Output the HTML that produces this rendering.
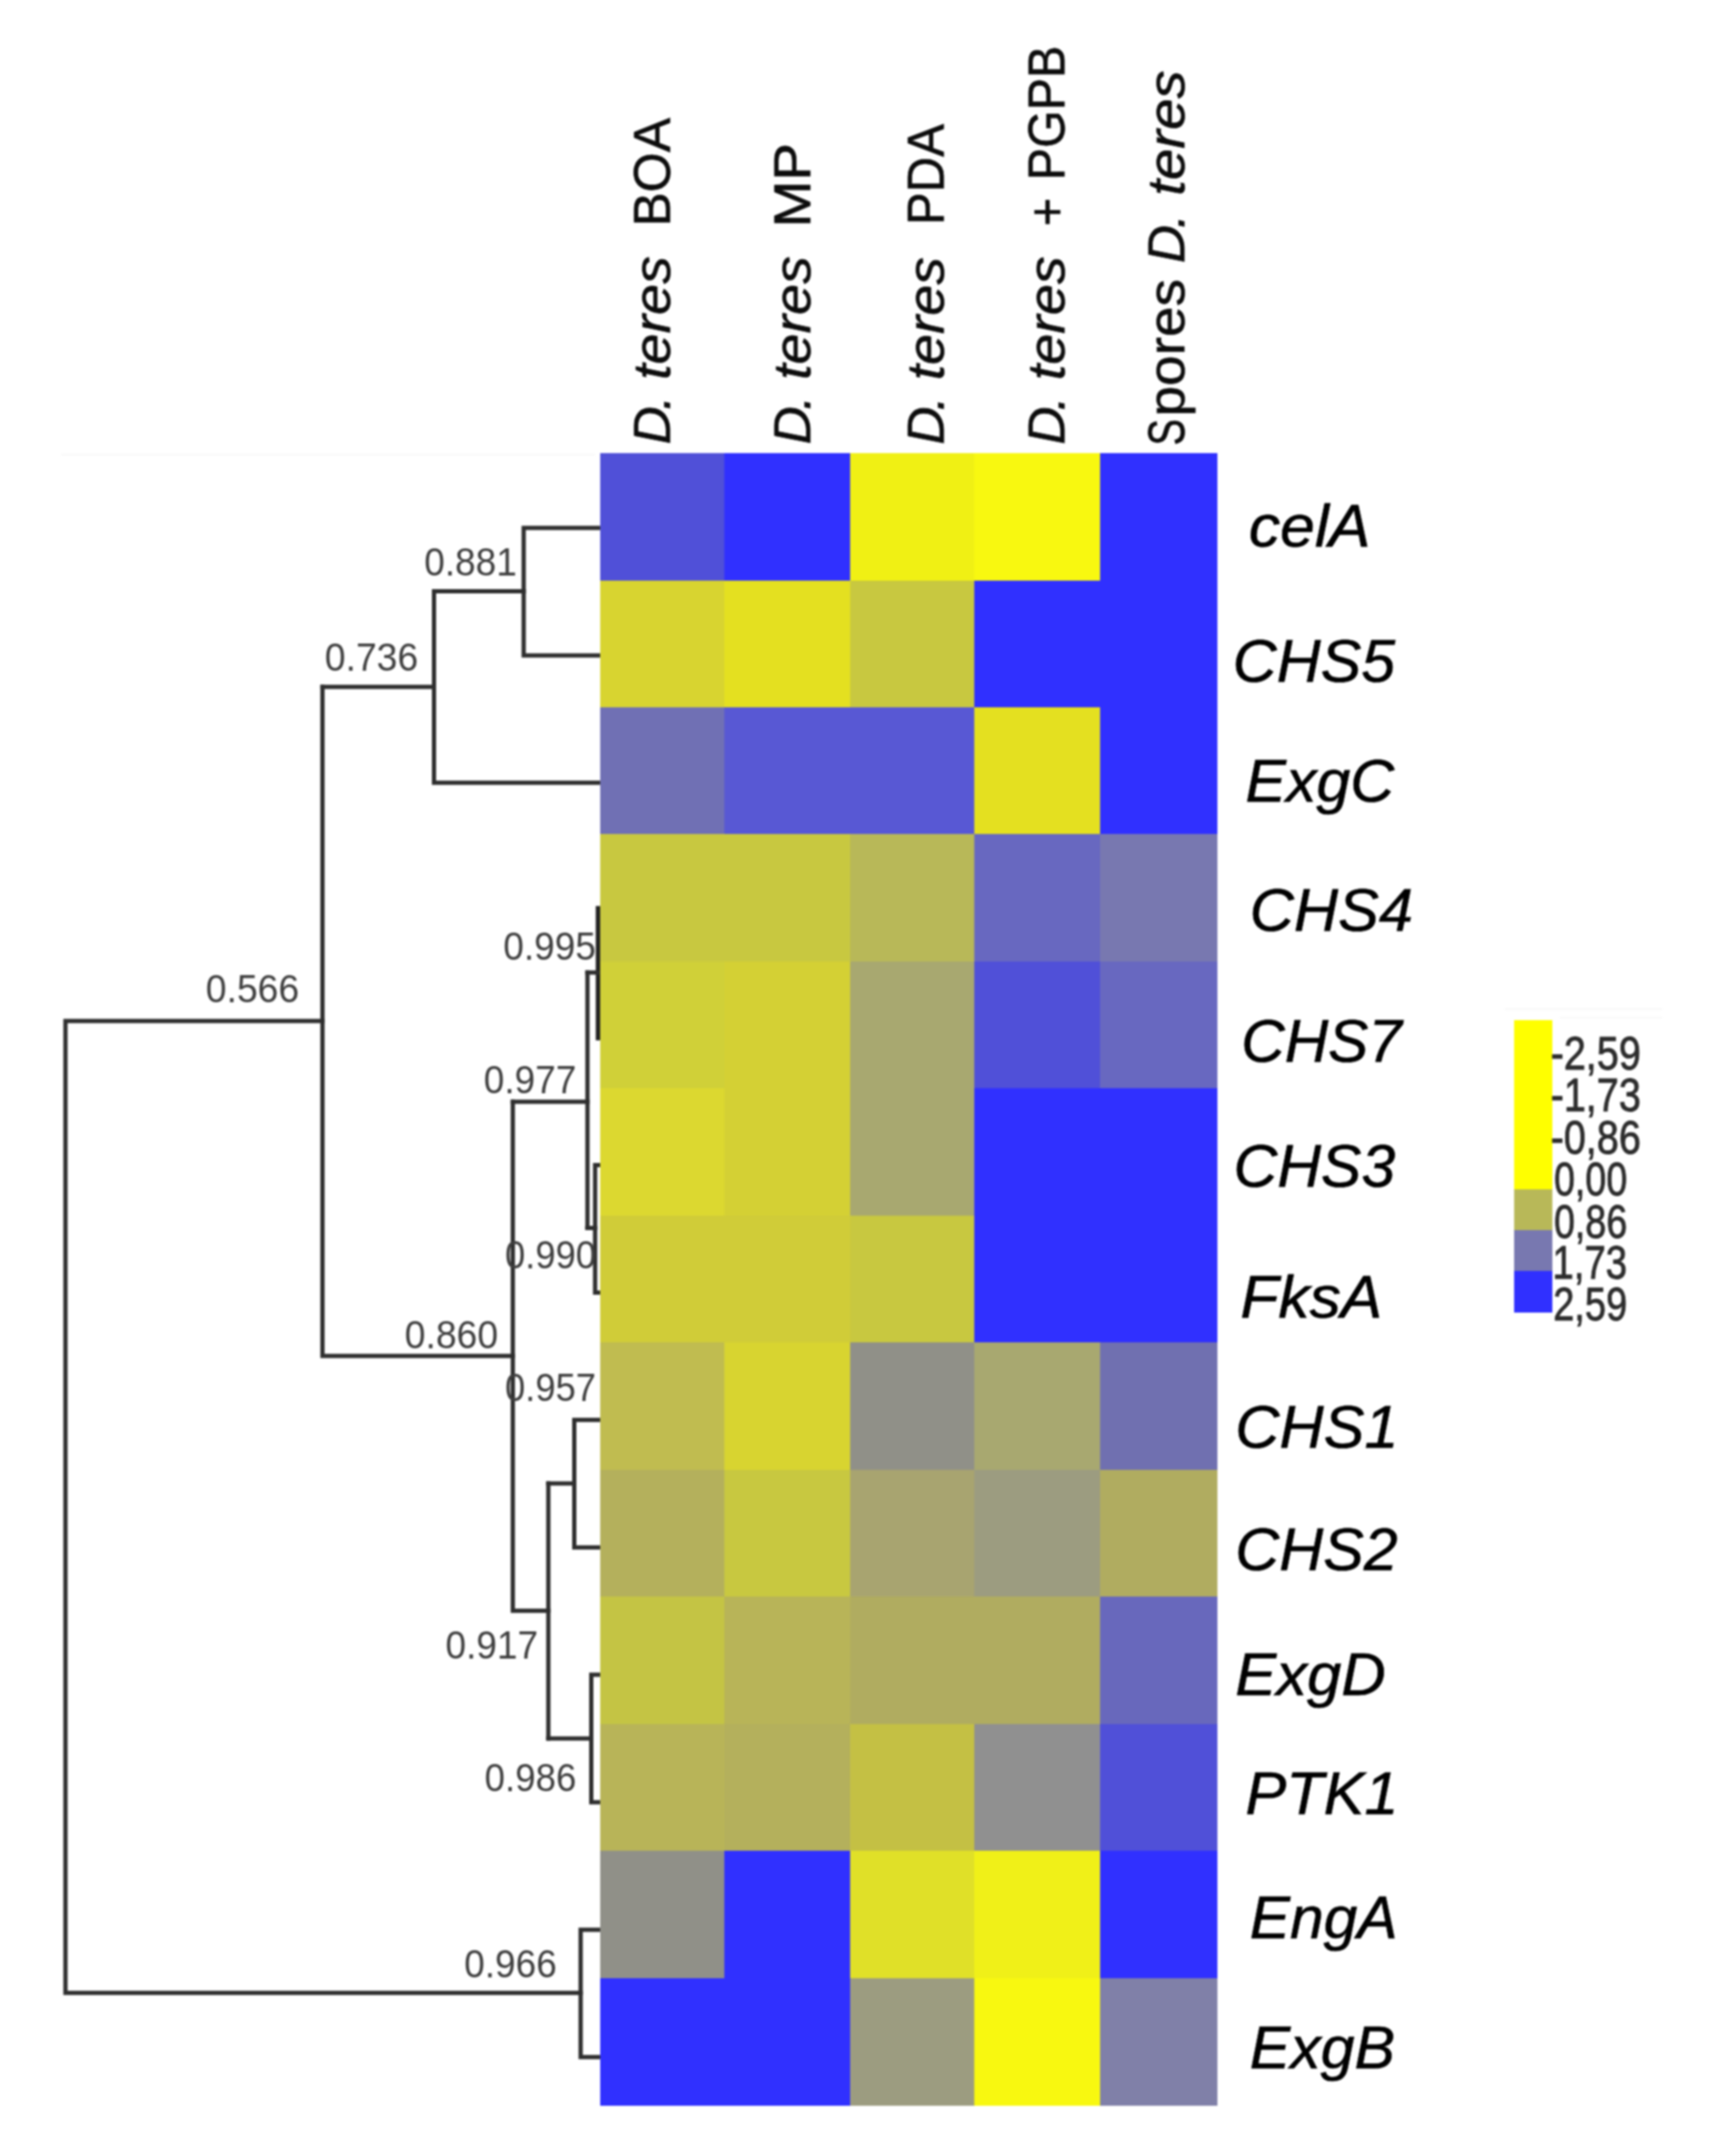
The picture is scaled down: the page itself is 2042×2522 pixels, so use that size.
<!DOCTYPE html>
<html lang="en"><head><meta charset="utf-8"><title>Heatmap</title>
<style>html,body{margin:0;padding:0;background:#fff}svg{display:block}text{font-family:"Liberation Sans",sans-serif}.g{font-style:italic;font-size:70.5px;fill:#000;stroke:#000;stroke-width:.7px}.n{font-size:47px;fill:#3e3e3e}.c{font-size:62px;fill:#0c0c0c;stroke:#0c0c0c;stroke-width:.7px}.i{font-style:italic}.l{font-size:55px;fill:#2c2c2c;stroke:#2c2c2c;stroke-width:1px}.d{fill:none;stroke:#2e2e2e;stroke-width:5;stroke-linecap:square;stroke-linejoin:miter}</style></head><body>
<svg width="2042" height="2522" viewBox="0 0 2042 2522">
<rect width="2042" height="2522" fill="#fff"/>
<defs><filter id="soft" x="0" y="0" width="100%" height="100%" filterUnits="userSpaceOnUse" color-interpolation-filters="sRGB"><feGaussianBlur stdDeviation="0.9"/></filter></defs>
<g filter="url(#soft)">
<rect width="2042" height="2522" fill="#fff"/>
<path d="M72 534.8H700M1770 1187H1955M1835 1197H1955" fill="none" stroke="#f6f6f6" stroke-width="1.6"/>
<path class="d" d="M708 621.0H616V770.9H708"/>
<path class="d" d="M616 695.5H510.5"/>
<path class="d" d="M510.5 695.5V920.8H708"/>
<path class="d" d="M510.5 808H379.3"/>
<path class="d" d="M379.3 808V1595H603.2"/>
<path class="d" d="M379.3 1201H77V2344.3H683"/>
<path class="d" d="M708 2269.9H683V2419.8H708"/>
<path class="d" d="M603.2 1296V1894.7H645"/>
<path class="d" d="M603.2 1296H691"/>
<path class="d" d="M691 1144V1444.5"/>
<path class="d" style="stroke-width:5.5;stroke:#222" d="M703.5 1068.5V1221"/>
<path class="d" d="M691 1144H703"/>
<path class="d" d="M708 1370.5H700V1520.4H708"/>
<path class="d" d="M691 1444.5H700"/>
<path class="d" d="M645 1745V2045"/>
<path class="d" d="M645 1745H675.5"/>
<path class="d" d="M708 1670.3H675.5V1820.2H708"/>
<path class="d" d="M645 2045H695.5"/>
<path class="d" d="M708 1970.1H695.5V2120.0H708"/>
<g shape-rendering="crispEdges">
<rect x="706" y="533.0" width="146.5" height="150.0" fill="#5050d8"/>
<rect x="852" y="533.0" width="148.0" height="150.0" fill="#3030ff"/>
<rect x="999.5" y="533.0" width="147.0" height="150.0" fill="#f0f014"/>
<rect x="1146" y="533.0" width="148.0" height="150.0" fill="#f8f810"/>
<rect x="1293.5" y="533.0" width="138.5" height="150.0" fill="#3030ff"/>
<rect x="706" y="682.5" width="146.5" height="150.0" fill="#d8d430"/>
<rect x="852" y="682.5" width="148.0" height="150.0" fill="#e4e020"/>
<rect x="999.5" y="682.5" width="147.0" height="150.0" fill="#c8c840"/>
<rect x="1146" y="682.5" width="148.0" height="150.0" fill="#3030ff"/>
<rect x="1293.5" y="682.5" width="138.5" height="150.0" fill="#3030ff"/>
<rect x="706" y="831.9" width="146.5" height="150.0" fill="#7070b4"/>
<rect x="852" y="831.9" width="148.0" height="150.0" fill="#5858d4"/>
<rect x="999.5" y="831.9" width="147.0" height="150.0" fill="#5858d4"/>
<rect x="1146" y="831.9" width="148.0" height="150.0" fill="#e4e020"/>
<rect x="1293.5" y="831.9" width="138.5" height="150.0" fill="#3030ff"/>
<rect x="706" y="981.4" width="146.5" height="150.0" fill="#c8c840"/>
<rect x="852" y="981.4" width="148.0" height="150.0" fill="#c8c840"/>
<rect x="999.5" y="981.4" width="147.0" height="150.0" fill="#b8b858"/>
<rect x="1146" y="981.4" width="148.0" height="150.0" fill="#6868c0"/>
<rect x="1293.5" y="981.4" width="138.5" height="150.0" fill="#7878b0"/>
<rect x="706" y="1130.8" width="146.5" height="150.0" fill="#d0d038"/>
<rect x="852" y="1130.8" width="148.0" height="150.0" fill="#d4d034"/>
<rect x="999.5" y="1130.8" width="147.0" height="150.0" fill="#a8a870"/>
<rect x="1146" y="1130.8" width="148.0" height="150.0" fill="#5050d8"/>
<rect x="1293.5" y="1130.8" width="138.5" height="150.0" fill="#6868c0"/>
<rect x="706" y="1280.3" width="146.5" height="150.0" fill="#dcd830"/>
<rect x="852" y="1280.3" width="148.0" height="150.0" fill="#d4d034"/>
<rect x="999.5" y="1280.3" width="147.0" height="150.0" fill="#a8a870"/>
<rect x="1146" y="1280.3" width="148.0" height="150.0" fill="#3030ff"/>
<rect x="1293.5" y="1280.3" width="138.5" height="150.0" fill="#3030ff"/>
<rect x="706" y="1429.8" width="146.5" height="150.0" fill="#d0cc38"/>
<rect x="852" y="1429.8" width="148.0" height="150.0" fill="#d0cc38"/>
<rect x="999.5" y="1429.8" width="147.0" height="150.0" fill="#c8c840"/>
<rect x="1146" y="1429.8" width="148.0" height="150.0" fill="#3030ff"/>
<rect x="1293.5" y="1429.8" width="138.5" height="150.0" fill="#3030ff"/>
<rect x="706" y="1579.2" width="146.5" height="150.0" fill="#c0bc50"/>
<rect x="852" y="1579.2" width="148.0" height="150.0" fill="#d8d430"/>
<rect x="999.5" y="1579.2" width="147.0" height="150.0" fill="#909088"/>
<rect x="1146" y="1579.2" width="148.0" height="150.0" fill="#a8a870"/>
<rect x="1293.5" y="1579.2" width="138.5" height="150.0" fill="#7070b0"/>
<rect x="706" y="1728.7" width="146.5" height="150.0" fill="#b4b05c"/>
<rect x="852" y="1728.7" width="148.0" height="150.0" fill="#c8c840"/>
<rect x="999.5" y="1728.7" width="147.0" height="150.0" fill="#a8a470"/>
<rect x="1146" y="1728.7" width="148.0" height="150.0" fill="#9c9c80"/>
<rect x="1293.5" y="1728.7" width="138.5" height="150.0" fill="#b0ac60"/>
<rect x="706" y="1878.2" width="146.5" height="150.0" fill="#c4c444"/>
<rect x="852" y="1878.2" width="148.0" height="150.0" fill="#b8b458"/>
<rect x="999.5" y="1878.2" width="147.0" height="150.0" fill="#b0ac60"/>
<rect x="1146" y="1878.2" width="148.0" height="150.0" fill="#b0ac60"/>
<rect x="1293.5" y="1878.2" width="138.5" height="150.0" fill="#6868bc"/>
<rect x="706" y="2027.6" width="146.5" height="150.0" fill="#b8b458"/>
<rect x="852" y="2027.6" width="148.0" height="150.0" fill="#b4b05c"/>
<rect x="999.5" y="2027.6" width="147.0" height="150.0" fill="#c4c044"/>
<rect x="1146" y="2027.6" width="148.0" height="150.0" fill="#909090"/>
<rect x="1293.5" y="2027.6" width="138.5" height="150.0" fill="#5050d8"/>
<rect x="706" y="2177.1" width="146.5" height="150.0" fill="#909088"/>
<rect x="852" y="2177.1" width="148.0" height="150.0" fill="#3030ff"/>
<rect x="999.5" y="2177.1" width="147.0" height="150.0" fill="#e0e028"/>
<rect x="1146" y="2177.1" width="148.0" height="150.0" fill="#f0f018"/>
<rect x="1293.5" y="2177.1" width="138.5" height="150.0" fill="#3030ff"/>
<rect x="706" y="2326.5" width="146.5" height="150.0" fill="#3030ff"/>
<rect x="852" y="2326.5" width="148.0" height="150.0" fill="#3030ff"/>
<rect x="999.5" y="2326.5" width="147.0" height="150.0" fill="#9c9c80"/>
<rect x="1146" y="2326.5" width="148.0" height="150.0" fill="#f8f810"/>
<rect x="1293.5" y="2326.5" width="138.5" height="150.0" fill="#8080a8"/>
</g>
<rect x="1781" y="1200" width="45" height="199" fill="#ffff00"/>
<rect x="1781" y="1399" width="45" height="48" fill="#b8b858"/>
<rect x="1781" y="1447" width="45" height="48" fill="#7878b0"/>
<rect x="1781" y="1495" width="45" height="49" fill="#3030ff"/>
<text class="n" x="499.0" y="677.0" textLength="109.0" lengthAdjust="spacingAndGlyphs">0.881</text>
<text class="n" x="382.0" y="789.0" textLength="110.0" lengthAdjust="spacingAndGlyphs">0.736</text>
<text class="n" x="242.0" y="1179.0" textLength="110.0" lengthAdjust="spacingAndGlyphs">0.566</text>
<text class="n" x="592.0" y="1129.0" textLength="109.0" lengthAdjust="spacingAndGlyphs">0.995</text>
<text class="n" x="569.0" y="1285.5" textLength="109.0" lengthAdjust="spacingAndGlyphs">0.977</text>
<text class="n" x="594.0" y="1492.0" textLength="107.0" lengthAdjust="spacingAndGlyphs">0.990</text>
<text class="n" x="476.0" y="1586.0" textLength="110.0" lengthAdjust="spacingAndGlyphs">0.860</text>
<text class="n" x="594.0" y="1648.0" textLength="107.0" lengthAdjust="spacingAndGlyphs">0.957</text>
<text class="n" x="524.0" y="1951.0" textLength="109.0" lengthAdjust="spacingAndGlyphs">0.917</text>
<text class="n" x="570.0" y="2107.0" textLength="108.0" lengthAdjust="spacingAndGlyphs">0.986</text>
<text class="n" x="546.0" y="2325.5" textLength="109.0" lengthAdjust="spacingAndGlyphs">0.966</text>
<text class="g" x="1469.0" y="642.5" textLength="143.0" lengthAdjust="spacingAndGlyphs">celA</text>
<text class="g" x="1450.0" y="802.0" textLength="191.0" lengthAdjust="spacingAndGlyphs">CHS5</text>
<text class="g" x="1465.0" y="942.5" textLength="175.0" lengthAdjust="spacingAndGlyphs">ExgC</text>
<text class="g" x="1470.0" y="1095.0" textLength="192.0" lengthAdjust="spacingAndGlyphs">CHS4</text>
<text class="g" x="1460.0" y="1249.0" textLength="189.0" lengthAdjust="spacingAndGlyphs">CHS7</text>
<text class="g" x="1451.0" y="1395.5" textLength="190.0" lengthAdjust="spacingAndGlyphs">CHS3</text>
<text class="g" x="1459.0" y="1550.0" textLength="167.0" lengthAdjust="spacingAndGlyphs">FksA</text>
<text class="g" x="1453.0" y="1702.5" textLength="192.0" lengthAdjust="spacingAndGlyphs">CHS1</text>
<text class="g" x="1453.0" y="1847.0" textLength="191.0" lengthAdjust="spacingAndGlyphs">CHS2</text>
<text class="g" x="1453.0" y="1993.5" textLength="177.0" lengthAdjust="spacingAndGlyphs">ExgD</text>
<text class="g" x="1465.0" y="2133.5" textLength="180.0" lengthAdjust="spacingAndGlyphs">PTK1</text>
<text class="g" x="1470.0" y="2279.5" textLength="174.0" lengthAdjust="spacingAndGlyphs">EngA</text>
<text class="g" x="1470.0" y="2432.5" textLength="171.0" lengthAdjust="spacingAndGlyphs">ExgB</text>
<text class="l" x="1824.0" y="1258.0" textLength="106.0" lengthAdjust="spacingAndGlyphs">-2,59</text>
<text class="l" x="1824.0" y="1307.0" textLength="106.0" lengthAdjust="spacingAndGlyphs">-1,73</text>
<text class="l" x="1824.0" y="1357.0" textLength="106.0" lengthAdjust="spacingAndGlyphs">-0,86</text>
<text class="l" x="1828.0" y="1406.0" textLength="86.0" lengthAdjust="spacingAndGlyphs">0,00</text>
<text class="l" x="1828.0" y="1456.0" textLength="86.0" lengthAdjust="spacingAndGlyphs">0,86</text>
<text class="l" x="1826.0" y="1504.0" textLength="88.0" lengthAdjust="spacingAndGlyphs">1,73</text>
<text class="l" x="1827.0" y="1553.0" textLength="87.0" lengthAdjust="spacingAndGlyphs">2,59</text>
<text class="c" transform="translate(787.8 0) rotate(-90)"><tspan class="i" x="-522.8" y="0.0">D<tspan dx="-4.4">.</tspan></tspan> <tspan class="i" x="-446.8" y="0.0" textLength="145.4" lengthAdjust="spacingAndGlyphs">teres</tspan> <tspan x="-266.6" y="0.0" textLength="128.0" lengthAdjust="spacingAndGlyphs">BOA</tspan></text>
<text class="c" transform="translate(952.5 0) rotate(-90)"><tspan class="i" x="-522.8" y="0.0">D<tspan dx="-4.4">.</tspan></tspan> <tspan class="i" x="-446.8" y="0.0" textLength="145.4" lengthAdjust="spacingAndGlyphs">teres</tspan> <tspan x="-267.6" y="0.0" textLength="99.4" lengthAdjust="spacingAndGlyphs">MP</tspan></text>
<text class="c" transform="translate(1110.0 0) rotate(-90)"><tspan class="i" x="-523.0" y="0.0">D<tspan dx="-5.0">.</tspan></tspan> <tspan class="i" x="-447.3" y="0.0" textLength="144.9" lengthAdjust="spacingAndGlyphs">teres</tspan> <tspan x="-264.8" y="0.0" textLength="118.8" lengthAdjust="spacingAndGlyphs">PDA</tspan></text>
<text class="c" transform="translate(1251.8 0) rotate(-90)"><tspan class="i" x="-523.0" y="0.0">D<tspan dx="-5.0">.</tspan></tspan> <tspan class="i" x="-447.3" y="0.0" textLength="145.7" lengthAdjust="spacingAndGlyphs">teres</tspan> <tspan x="-266.0" y="0.0" textLength="33.2" lengthAdjust="spacingAndGlyphs">+</tspan> <tspan x="-212.0" y="0.0" textLength="158.2" lengthAdjust="spacingAndGlyphs">PGPB</tspan></text>
<text class="c" transform="translate(1392.8 0) rotate(-90)"><tspan x="-524.1" y="0.0" textLength="31.1" lengthAdjust="spacingAndGlyphs">S</tspan><tspan x="-490.0" y="0.0" textLength="161.8" lengthAdjust="spacingAndGlyphs">pores</tspan> <tspan class="i" x="-309.5" y="0.4">D<tspan dx="-4.0">.</tspan></tspan> <tspan class="i" x="-230.2" y="0.4" textLength="147.4" lengthAdjust="spacingAndGlyphs">teres</tspan></text>
</g>
</svg></body></html>
